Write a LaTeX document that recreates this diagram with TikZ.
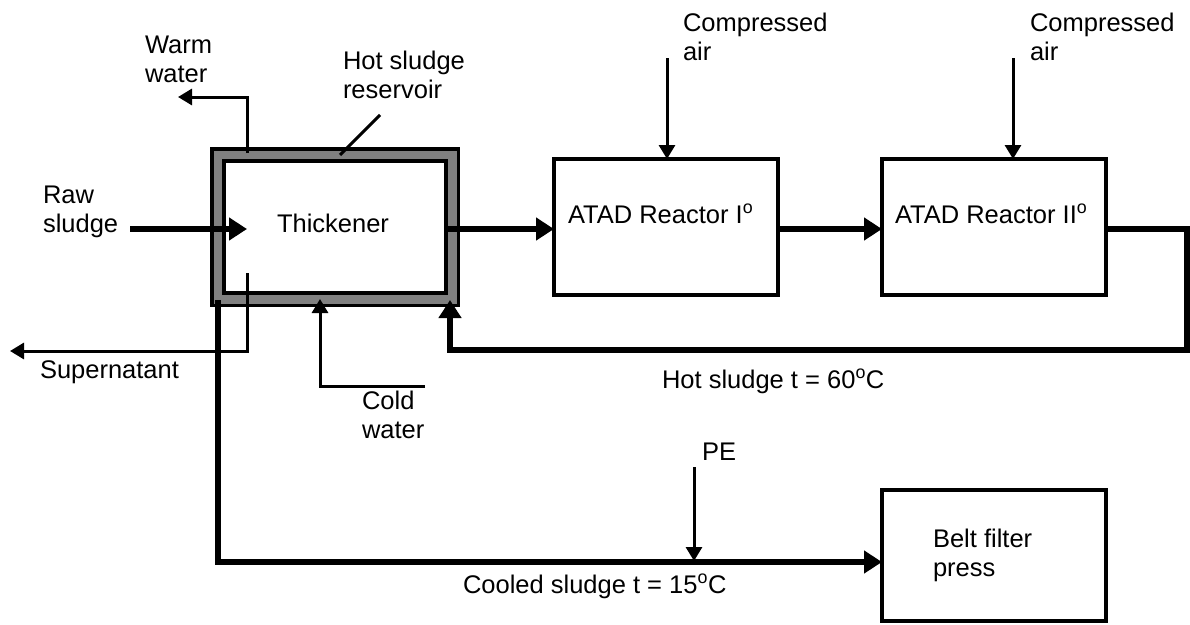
\documentclass[tikz,border=0pt]{standalone}
\usepackage{fontspec}
\setmainfont{Liberation Sans}
\usetikzlibrary{arrows.meta}
\definecolor{resgray}{gray}{0.5}
\begin{document}
\begin{tikzpicture}[x=1pt,y=-1pt,
  every node/.style={inner sep=0pt, outer sep=0pt, font=\fontsize{25.5}{29}\selectfont},
  unitbox/.style={draw, line width=4pt, fill=white},
  flowthick/.style={line width=5.5pt, -{Triangle[length=18pt,width=22pt]}},
  flowthin/.style={line width=3pt, -{Triangle[length=14pt,width=16pt]}},
  plainthin/.style={line width=3pt},
  lbl/.style={align=left, anchor=base west}]
\fill[white] (0,0) rectangle (1190,624);
\useasboundingbox (0,0) rectangle (1190,624);

% units
\node[draw, line width=3.5pt, fill=resgray, minimum width=246.5, minimum height=156.5] (res) at (335,227) {};
\node[draw, line width=3.5pt, fill=white, minimum width=222, minimum height=132] (thk) at (335,227) {};
\node[anchor=base] (thktxt) at (333,232) {Thickener};
\node[unitbox, minimum width=224, minimum height=136] (r1) at (666,227) {};
\node[lbl] (r1txt) at (568,223) {ATAD Reactor I\textsuperscript{o}};
\node[unitbox, minimum width=224, minimum height=136] (r2) at (994,227) {};
\node[lbl] (r2txt) at (895,223) {ATAD Reactor II\textsuperscript{o}};
\node[unitbox, minimum width=224, minimum height=131] (bfp) at (994,555.5) {};
\node[lbl] (bfptxt) at (933,576) {Belt filter\\press};

% labels (base = last line baseline)
\node[lbl] (warm) at (145,82) {Warm\\water};
\node[lbl] (hsr) at (343,98) {Hot sludge\\reservoir};
\node[lbl] (raw) at (43,232) {Raw\\sludge};
\node[lbl] (ca1) at (683,60) {Compressed\\air};
\node[lbl] (ca2) at (1030,60) {Compressed\\air};
\node[lbl] (cold) at (362,438) {Cold\\water};
\node[lbl] (sup) at (40,378) {Supernatant};
\node[lbl] (hot) at (662,388) {Hot sludge t = 60\textsuperscript{o}C};
\node[lbl] (cool) at (463,593) {Cooled sludge t = 15\textsuperscript{o}C};
\node[lbl] (pe) at (702,460) {PE};

% free ends
\coordinate (rawin) at (130,229);
\coordinate (rawtip) at (247,229);
\coordinate (warmout) at (247,153);
\coordinate (warmcorner) at (247,97);
\coordinate (warmtip) at (178,97);
\coordinate (ptrA) at (380,115);
\coordinate (ptrB) at (340,155);
\coordinate (supout) at (247,273);
\coordinate (supcorner) at (247,351);
\coordinate (suptip) at (10,351);
\coordinate (coolout) at (218,300);
\coordinate (coolcorner) at (218,562);
\coordinate (pein) at (694,467);
\coordinate (petip) at (694,561);
\coordinate (coldin) at (425,386);
\coordinate (coldcorner) at (320,386);
\coordinate (coldtip) at (320,299);
\coordinate (retA) at (1187,229);
\coordinate (retB) at (1187,350);
\coordinate (retC) at (450,350);
\coordinate (rettip) at (450,300);
\coordinate (ca1in) at (667,58);
\coordinate (ca2in) at (1013,58);

% connectors
\draw[flowthick] (rawin) -- (rawtip);
\draw[flowthin] (warmout) -- (warmcorner) -- (warmtip);
\draw[plainthin] (ptrA) -- (ptrB);
\draw[flowthin] (supout) -- (supcorner) -- (suptip);
\draw[flowthick] (thk.east |- rawin) -- (r1.west |- rawin);
\draw[flowthick] (r1.east |- rawin) -- (r2.west |- rawin);
\draw[flowthick] (r2.east |- retA) -- (retA) -- (retB) -- (retC) -- (rettip);
\draw[flowthin] (coldin) -- (coldcorner) -- (coldtip);
\draw[flowthick] (coolout) -- (coolcorner) -- (bfp.west |- coolcorner);
\draw[flowthin] (pein) -- (petip);
\draw[flowthin] (ca1in) -- (r1.north -| ca1in);
\draw[flowthin] (ca2in) -- (r2.north -| ca2in);
\end{tikzpicture}
\end{document}
